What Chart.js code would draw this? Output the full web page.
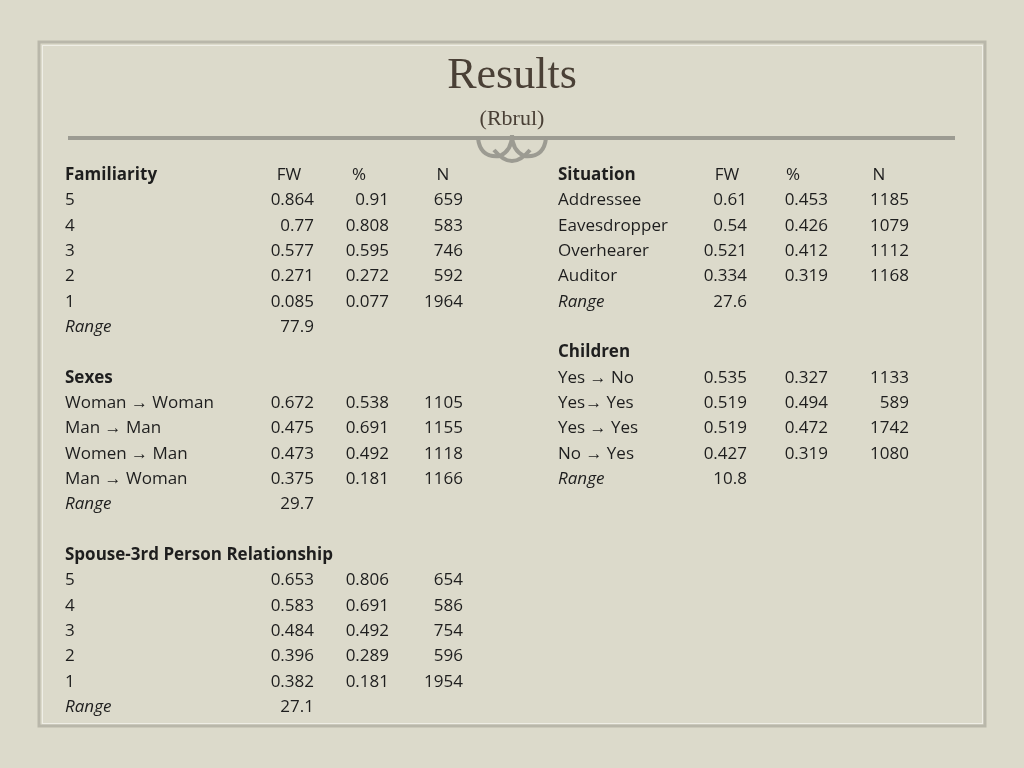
<!DOCTYPE html>
<html>
<head>
<meta charset="utf-8">
<style>
  html, body { margin: 0; padding: 0; background: #dcdacb; }
  #wrap { position: relative; width: 1024px; height: 768px; }
  canvas { position: absolute; left: 0; top: 0; }
</style>
<script src="https://cdn.jsdelivr.net/npm/chart.js@4.4.1/dist/chart.umd.min.js"></script>
</head>
<body>
<div id="wrap"><canvas id="tbl" width="1024" height="768"></canvas></div>
<script>
// Table data (left block)
const famLabels = ["5", "4", "3", "2", "1"];
const famFW = ["0.864", "0.77", "0.577", "0.271", "0.085"];
const famPct = ["0.91", "0.808", "0.595", "0.272", "0.077"];
const famN = ["659", "583", "746", "592", "1964"];
const famRange = "77.9";

const sexLabels = ["Woman \u2192 Woman", "Man \u2192 Man", "Women \u2192 Man", "Man \u2192 Woman"];
const sexFW = ["0.672", "0.475", "0.473", "0.375"];
const sexPct = ["0.538", "0.691", "0.492", "0.181"];
const sexN = ["1105", "1155", "1118", "1166"];
const sexRange = "29.7";

const spLabels = ["5", "4", "3", "2", "1"];
const spFW = ["0.653", "0.583", "0.484", "0.396", "0.382"];
const spPct = ["0.806", "0.691", "0.492", "0.289", "0.181"];
const spN = ["654", "586", "754", "596", "1954"];
const spRange = "27.1";

// Right block
const sitLabels = ["Addressee", "Eavesdropper", "Overhearer", "Auditor"];
const sitFW = ["0.61", "0.54", "0.521", "0.334"];
const sitPct = ["0.453", "0.426", "0.412", "0.319"];
const sitN = ["1185", "1079", "1112", "1168"];
const sitRange = "27.6";

const chLabels = ["Yes \u2192 No", "Yes\u2192 Yes", "Yes \u2192 Yes", "No \u2192 Yes"];
const chFW = ["0.535", "0.519", "0.519", "0.427"];
const chPct = ["0.327", "0.494", "0.472", "0.319"];
const chN = ["1133", "589", "1742", "1080"];
const chRange = "10.8";

// column anchors (pixel x on a 0..1024 scale) and alignment
const L = { label: 65, fw: 314, pct: 389, n: 463, hfw: 289, hpct: 359, hn: 443 };
const R = { label: 558, fw: 747, pct: 828, n: 909, hfw: 727, hpct: 793, hn: 879 };

const cells = [];
function cell(x, row, text, align, style) { cells.push({ x: x, y: row, text: text, align: align, style: style }); }

function block(c, startRow, title, labels, fw, pct, n, range, withCols) {
  cell(c.label, startRow, title, "left", "bold");
  if (withCols) {
    cell(c.hfw, startRow, "FW", "center", "");
    cell(c.hpct, startRow, "%", "center", "");
    cell(c.hn, startRow, "N", "center", "");
  }
  labels.forEach(function (lab, i) {
    const r = startRow + 1 + i;
    cell(c.label, r, lab, "left", "");
    cell(c.fw, r, fw[i], "right", "");
    cell(c.pct, r, pct[i], "right", "");
    cell(c.n, r, n[i], "right", "");
  });
  const rr = startRow + 1 + labels.length;
  cell(c.label, rr, "Range", "left", "italic");
  cell(c.fw, rr, range, "right", "");
}

block(L, 0, "Familiarity", famLabels, famFW, famPct, famN, famRange, true);
block(L, 8, "Sexes", sexLabels, sexFW, sexPct, sexN, sexRange, false);
block(L, 15, "Spouse-3rd Person Relationship", spLabels, spFW, spPct, spN, spRange, false);
block(R, 0, "Situation", sitLabels, sitFW, sitPct, sitN, sitRange, true);
block(R, 7, "Children", chLabels, chFW, chPct, chN, chRange, false);

const decor = {
  id: "decor",
  beforeDraw: function (chart) {
    const g = chart.ctx;
    g.save();
    g.fillStyle = "#dcdacb";
    g.fillRect(0, 0, 1024, 768);
    g.strokeStyle = "#b9b7aa"; g.lineWidth = 3;
    g.strokeRect(39, 42, 946, 684);
    g.strokeStyle = "#efeee6"; g.lineWidth = 1;
    g.strokeRect(42.5, 45.5, 940, 678);
    // title
    g.fillStyle = "#4a4036";
    g.textAlign = "center"; g.textBaseline = "alphabetic";
    g.font = "44px 'Liberation Serif'";
    g.fillText("Results", 512, 88);
    g.font = "22px 'Liberation Serif'";
    g.fillText("(Rbrul)", 512, 125);
    // rule + ornament
    g.strokeStyle = "#9c9b92"; g.lineWidth = 4;
    g.beginPath(); g.moveTo(68, 138); g.lineTo(955, 138); g.stroke();
    g.lineWidth = 4;
    g.beginPath();
    g.moveTo(478, 138); g.quadraticCurveTo(480, 158, 500, 156);
    g.quadraticCurveTo(512, 150, 512, 135);
    g.quadraticCurveTo(512, 150, 524, 156);
    g.quadraticCurveTo(544, 158, 546, 138);
    g.stroke();
    g.beginPath();
    g.moveTo(494, 150); g.quadraticCurveTo(512, 172, 530, 150); g.stroke();
    g.restore();
  },
  afterDatasetsDraw: function (chart) {
    const g = chart.ctx, xs = chart.scales.x, ys = chart.scales.y;
    g.save();
    g.fillStyle = "#1e1e1e";
    g.textBaseline = "middle";
    chart.data.datasets[0].data.forEach(function (d) {
      g.font = (d.style ? d.style + " " : "") + "17px 'Open Sans'";
      g.textAlign = d.align;
      g.fillText(d.text, xs.getPixelForValue(d.x), ys.getPixelForValue(d.y));
    });
    g.restore();
  }
};

new Chart(document.getElementById("tbl"), {
  type: "scatter",
  data: { datasets: [{ data: cells, pointRadius: 0, pointHoverRadius: 0 }] },
  options: {
    responsive: false,
    animation: false,
    events: [],
    layout: { padding: { top: 175, bottom: 768 - 707, left: 0, right: 0 } },
    scales: {
      x: { type: "linear", min: 0, max: 1024, display: false },
      y: { type: "linear", min: 0, max: 21, reverse: true, display: false }
    },
    plugins: { legend: { display: false }, tooltip: { enabled: false } }
  },
  plugins: [decor]
});
</script>
</body>
</html>
